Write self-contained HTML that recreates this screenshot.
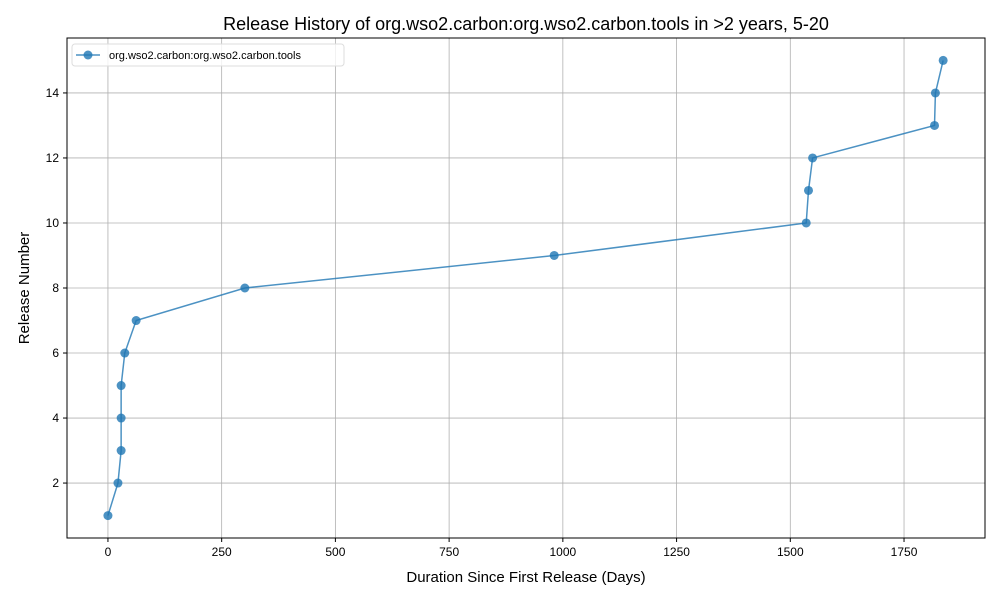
<!DOCTYPE html>
<html><head><meta charset="utf-8"><style>
body{margin:0;background:#fff;font-family:"Liberation Sans",sans-serif}
</style></head><body>
<svg id="chart" width="1000" height="600" xmlns="http://www.w3.org/2000/svg" font-family="Liberation Sans, sans-serif">
<rect width="1000" height="600" fill="#fff"/>
<text x="526" y="30" font-size="18" text-anchor="middle">Release History of org.wso2.carbon:org.wso2.carbon.tools in &gt;2 years, 5-20</text>
<text x="526" y="582" font-size="15" text-anchor="middle">Duration Since First Release (Days)</text>
<text x="29" y="288" font-size="15" text-anchor="middle" transform="rotate(-90 29 288)">Release Number</text>
<g id="grid"></g><g id="ticks"></g><g id="series"></g>
<rect x="67" y="38" width="918" height="500" fill="none" stroke="#000" stroke-width="1"/>
<g>
<rect x="72" y="44" width="272" height="22" fill="#fff" fill-opacity="0.8" stroke="#ddd" rx="3"/>
<line x1="76" y1="55" x2="100" y2="55" stroke="#1f77b4" stroke-opacity="0.8" stroke-width="1.5"/>
<circle cx="88" cy="55" r="4.5" fill="#1f77b4" fill-opacity="0.8"/>
<text x="109" y="59" font-size="11">org.wso2.carbon:org.wso2.carbon.tools</text>
</g>
</svg>
<script>
const days=[0,22,29,29,29,37,62,301,981,1535,1540,1549,1817,1819,1836];
const releases=[1,2,3,4,5,6,7,8,9,10,11,12,13,14,15];
const xTicks=[0,250,500,750,1000,1250,1500,1750];
const yTicks=[2,4,6,8,10,12,14];
const L=67,R=985,T=38,B=538,X0=-90,X1=1928,Y0=0.31,Y1=15.69;
const sx=v=>L+(v-X0)/(X1-X0)*(R-L);
const sy=v=>B-(v-Y0)/(Y1-Y0)*(B-T);
const NS="http://www.w3.org/2000/svg";
const mk=(t,a,p)=>{const e=document.createElementNS(NS,t);for(const k in a)e.setAttribute(k,a[k]);p.appendChild(e);return e;};
const g=document.getElementById('grid'),tk=document.getElementById('ticks'),s=document.getElementById('series');
xTicks.forEach(v=>{const x=sx(v);
const l=mk('line',{x1:x,x2:x,y1:T,y2:B,stroke:'#b0b0b0','stroke-width':0.8},g);


mk('line',{x1:x,x2:x,y1:B,y2:B+4,stroke:'#000'},tk);
const t=mk('text',{x:x,y:B+18,'font-size':12,'text-anchor':'middle'},tk);t.textContent=v;

});
yTicks.forEach(v=>{const y=sy(v);
const l=mk('line',{x1:L,x2:R,y1:y,y2:y,stroke:'#b0b0b0','stroke-width':0.8},g);


mk('line',{x1:L-4,x2:L,y1:y,y2:y,stroke:'#000'},tk);
const t=mk('text',{x:L-8,y:y+4,'font-size':12,'text-anchor':'end'},tk);t.textContent=v;

});
const pl=mk('polyline',{points:days.map((d,i)=>sx(d)+','+sy(releases[i])).join(' '),fill:'none',stroke:'#1f77b4','stroke-opacity':0.8,'stroke-width':1.5},s);


days.forEach((d,i)=>{const c=mk('circle',{cx:sx(d),cy:sy(releases[i]),r:4.5,fill:'#1f77b4','fill-opacity':0.8},s);

});
</script>
</body></html>
